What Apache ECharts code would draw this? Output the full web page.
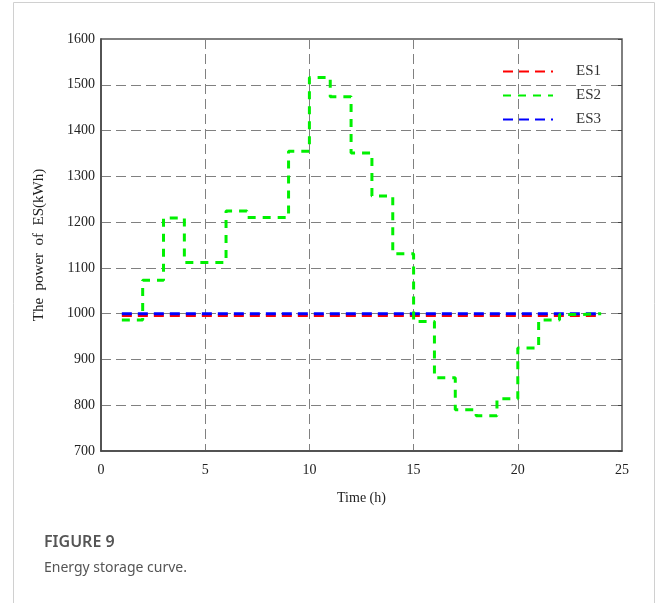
<!DOCTYPE html>
<html>
<head>
<meta charset="utf-8">
<script src="https://cdn.jsdelivr.net/npm/echarts@6/dist/echarts.min.js"></script>
<style>
  html, body { margin: 0; padding: 0; background: #fff; }
  #container { width: 656px; height: 603px; }
</style>
</head>
<body>
<div id="container"></div>
<script>
// hours 1..24, each value holds for the hour that starts at that point
const hours = [1, 2, 3, 4, 5, 6, 7, 8, 9, 10, 11, 12, 13, 14, 15, 16, 17, 18, 19, 20, 21, 22, 23, 24];
const es1 = [996, 996, 996, 996, 996, 996, 996, 996, 996, 996, 996, 996, 996, 996, 996, 996, 996, 996, 996, 996, 996, 996, 996, 996];
const es2 = [986, 1073, 1209, 1112, 1112, 1224, 1210, 1210, 1355, 1516, 1474, 1351, 1257, 1131, 983, 860, 790, 777, 814, 925, 986, 998, 1000, 1000];
const es3 = [1000, 1000, 1000, 1000, 1000, 1000, 1000, 1000, 1000, 1000, 1000, 1000, 1000, 1000, 1000, 1000, 1000, 1000, 1000, 1000, 1000, 1000, 1000, 1000];
const seriesNames = ['ES1', 'ES2', 'ES3'];

const serif = 'Liberation Serif';
const pairs = (ys) => hours.map((h, i) => [h, ys[i]]);

const myChart = echarts.init(document.getElementById('container'));
const gridLine = { show: true, lineStyle: { color: '#808080', width: 1, type: [10, 5] } };

const option = {
    backgroundColor: '#fff',
    animation: false,
    grid: {
        left: 101, right: 34, top: 39, bottom: 152,
        show: true, borderColor: '#555', borderWidth: 1.5
    },
    legend: {
        data: seriesNames,
        orient: 'vertical',
        left: 497,
        top: 59,
        itemWidth: 50,
        itemHeight: 14,
        itemGap: 9,
        itemStyle: { opacity: 0 },
        textStyle: { fontFamily: serif, fontSize: 15, color: '#333', padding: [0, 0, 0, 18] }
    },
    xAxis: {
        type: 'value',
        min: 0, max: 25, interval: 5,
        name: 'Time (h)',
        nameLocation: 'middle',
        nameGap: 40,
        nameTextStyle: { fontFamily: serif, fontSize: 14, color: '#222' },
        axisLine: { show: true, onZero: false, lineStyle: { color: '#444', width: 1.5 } },
        axisTick: { show: false },
        axisLabel: { fontFamily: serif, fontSize: 14, color: '#222', margin: 12 },
        splitLine: gridLine
    },
    yAxis: [{
        type: 'value',
        min: 700, max: 1600, interval: 100,
        name: 'The  power  of  ES(kWh)',
        nameLocation: 'middle',
        nameGap: 54,
        nameTextStyle: { fontFamily: serif, fontSize: 15, color: '#222' },
        axisLine: { show: true, lineStyle: { color: '#444', width: 1.5 } },
        axisTick: { show: false },
        axisLabel: { fontFamily: serif, fontSize: 14, color: '#222', margin: 6, formatter: (v) => String(v) },
        splitLine: gridLine
    }, {
        type: 'value',
        position: 'right',
        min: 700, max: 1600, interval: 100,
        axisLine: { show: false },
        axisTick: { show: true, inside: true, length: 4, lineStyle: { color: '#444' } },
        axisLabel: { show: false },
        splitLine: { show: false }
    }],
    series: [
        {
            name: 'ES1', type: 'line', data: pairs(es1), symbol: 'none', z: 2,
            color: '#ff0000',
            lineStyle: { color: '#ff0000', width: 3, type: [10, 6] }
        },
        {
            name: 'ES2', type: 'line', data: pairs(es2), symbol: 'none', z: 4,
            step: 'end',
            color: '#00f000',
            lineStyle: { color: '#00f000', width: 3, type: [8, 7] }
        },
        {
            name: 'ES3', type: 'line', data: pairs(es3), symbol: 'none', z: 3,
            color: '#0000ff',
            lineStyle: { color: '#0000ff', width: 3, type: [10, 6] }
        }
    ],
    graphic: [
        {
            type: 'rect', silent: true, z: -1,
            shape: { x: 13.5, y: 2.5, width: 641, height: 620 },
            style: { fill: 'none', stroke: '#d0d0d0', lineWidth: 1 }
        },
        {
            type: 'text', left: 44, top: 534,
            style: { text: 'FIGURE 9', font: '600 16px "Noto Sans"', fill: '#555' }
        },
        {
            type: 'text', left: 44, top: 561,
            style: { text: 'Energy storage curve.', font: '14px "Noto Sans"', fill: '#555' }
        }
    ]
};
myChart.setOption(option);
window.addEventListener('resize', () => {
    myChart.resize()
})
</script>
</body>
</html>
